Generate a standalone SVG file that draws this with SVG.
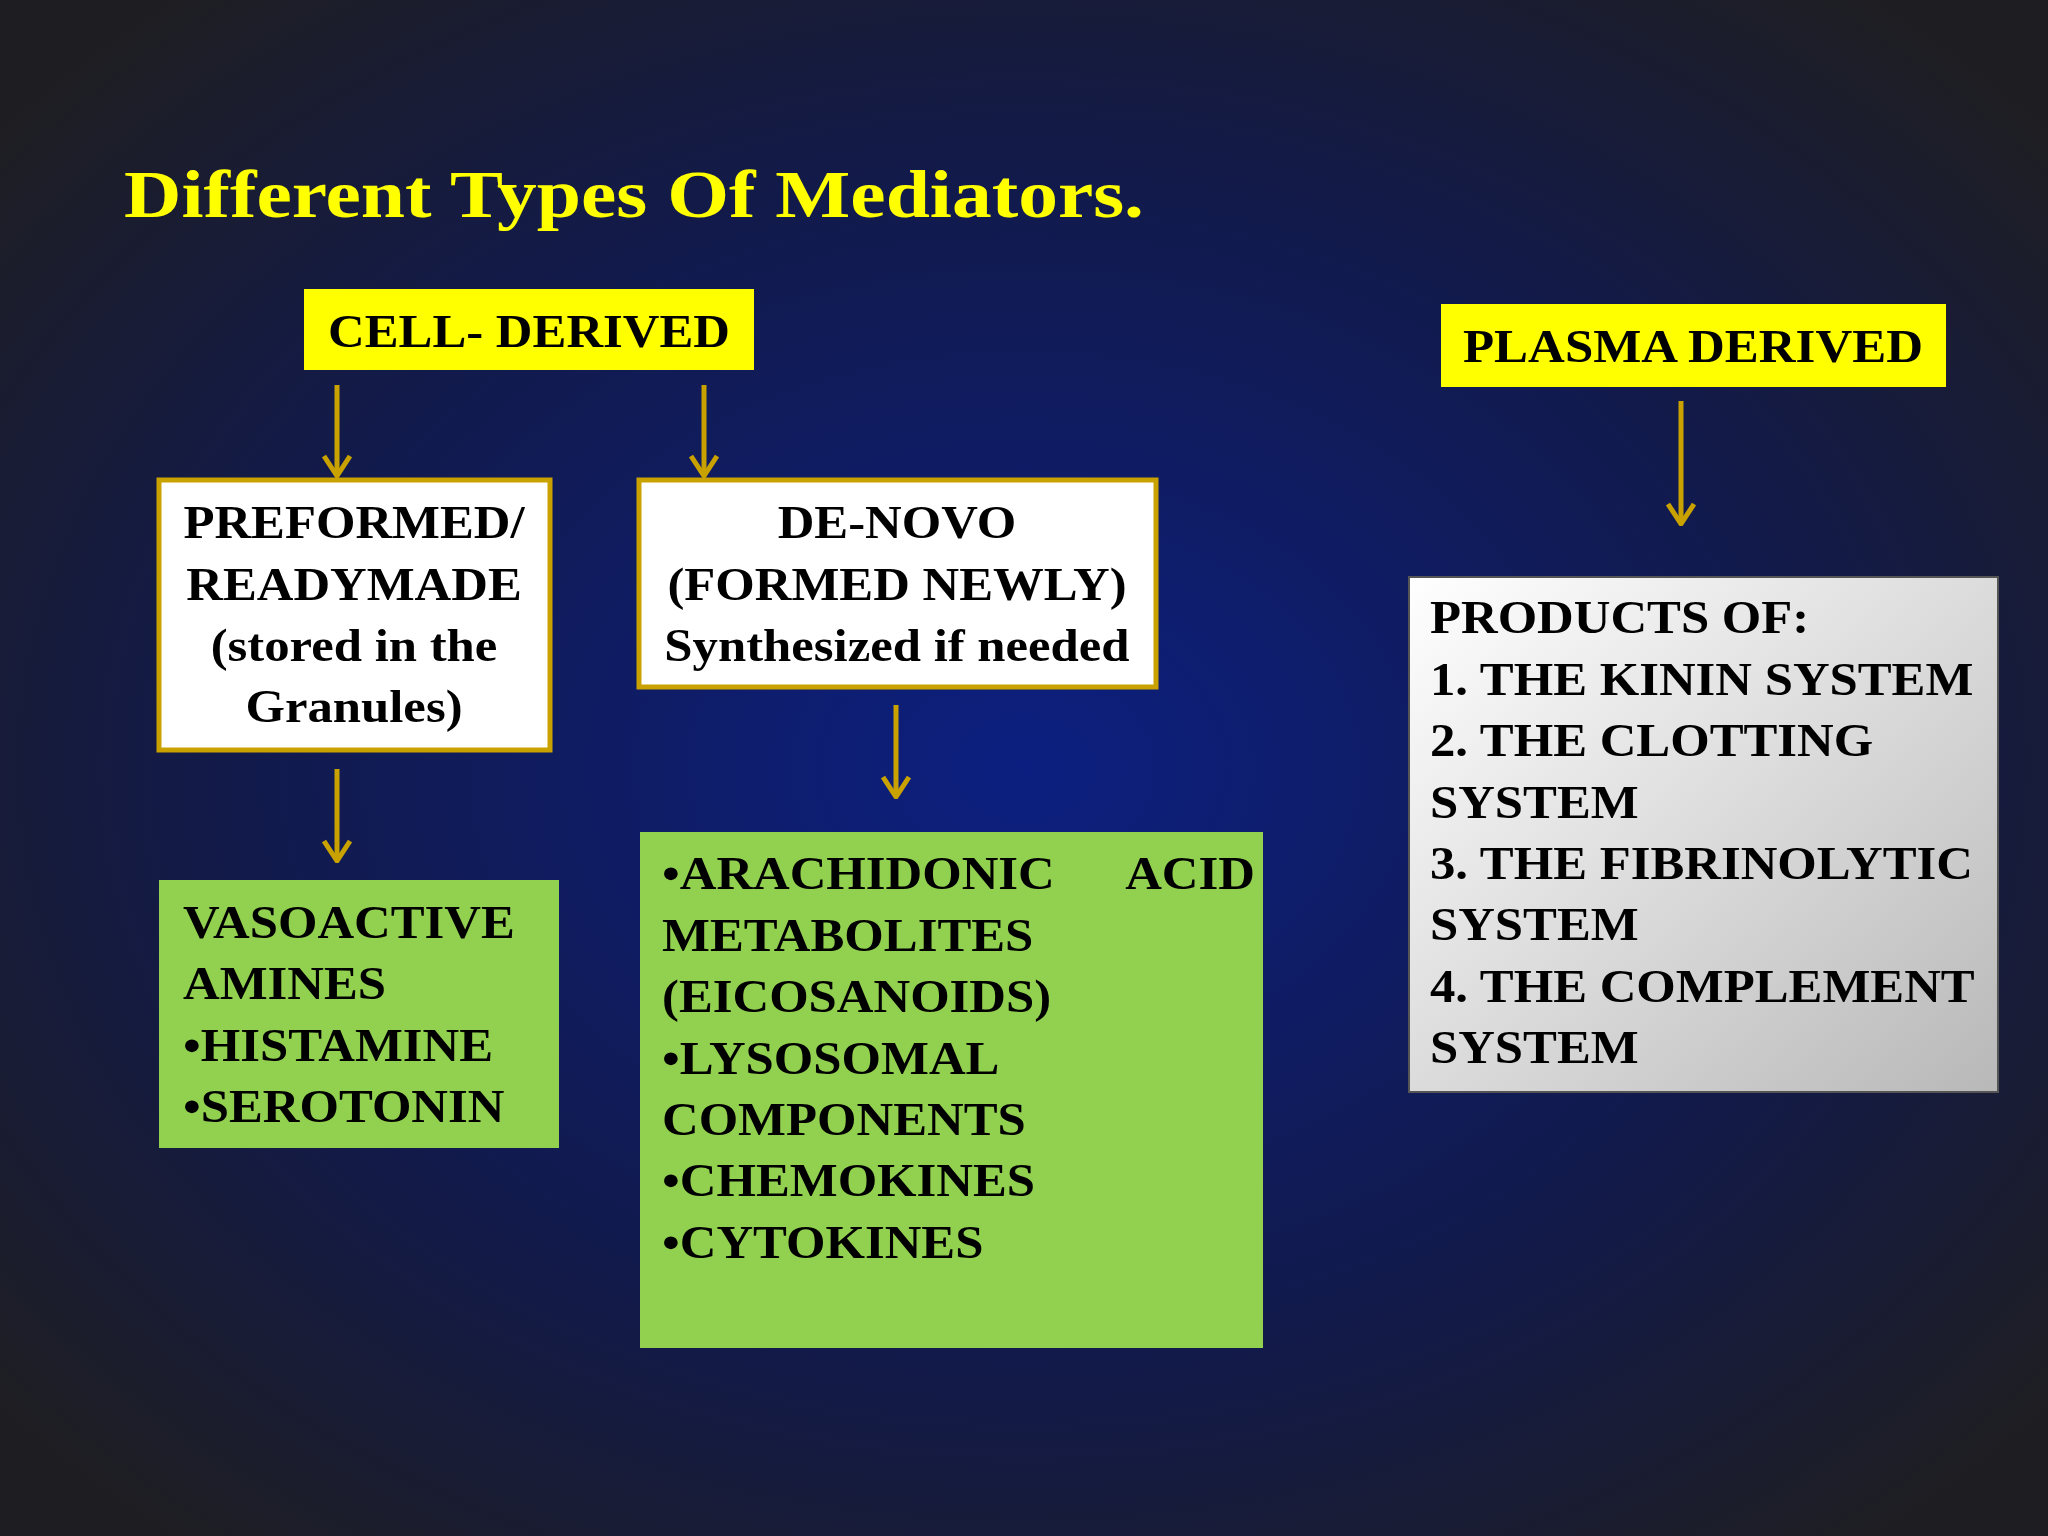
<svg xmlns="http://www.w3.org/2000/svg" width="2048" height="1536" viewBox="0 0 2048 1536">
<defs>
<radialGradient id="bg" cx="0.5" cy="0.5" r="0.65">
<stop offset="0" stop-color="#0c1f80"/>
<stop offset="0.6" stop-color="#121a4a"/>
<stop offset="1" stop-color="#1e1e22"/>
</radialGradient>
<linearGradient id="gr" x1="0" y1="0" x2="1" y2="1">
<stop offset="0" stop-color="#ffffff"/>
<stop offset="1" stop-color="#b8b8b8"/>
</linearGradient>
<marker id="ah" viewBox="0 0 24 30" refX="22" refY="15" markerWidth="24" markerHeight="30" markerUnits="userSpaceOnUse" orient="auto">
<path d="M2,2 L22,15 L2,28" fill="none" stroke="#c9a200" stroke-width="5" stroke-linejoin="round"/>
</marker>
<style>
text{font-family:"Liberation Serif","Times New Roman",serif;font-weight:bold;font-size:47px;fill:#000}
.t{fill:#ffff00;font-size:68px}
.arr{stroke:#c9a200;stroke-width:5;fill:none}
</style>
</defs>
<rect width="2048" height="1536" fill="url(#bg)"/>
<text class="t" x="124" y="217" textLength="1020" lengthAdjust="spacingAndGlyphs">Different Types Of Mediators.</text>
<g id="cell"><rect x="304" y="289" width="450" height="81" fill="#ffff00"/><text x="529" y="347" text-anchor="middle" textLength="402" lengthAdjust="spacingAndGlyphs">CELL- DERIVED</text></g>
<g id="plasma"><rect x="1441" y="304" width="505" height="83" fill="#ffff00"/><text x="1693" y="362" text-anchor="middle" textLength="460" lengthAdjust="spacingAndGlyphs">PLASMA DERIVED</text></g>
<g id="preformed"><rect x="159" y="480" width="391" height="270" fill="#fff" stroke="#c9a200" stroke-width="5"/>
<g transform="translate(354 0) scale(1.08 1) translate(-354 0)">
<text x="354" y="538" text-anchor="middle">PREFORMED/</text><text x="354" y="600" text-anchor="middle">READYMADE</text><text x="354" y="661" text-anchor="middle">(stored in the</text><text x="354" y="722" text-anchor="middle">Granules)</text></g></g>
<g id="denovo"><rect x="639" y="480" width="517" height="207" fill="#fff" stroke="#c9a200" stroke-width="5"/>
<g transform="translate(897 0) scale(1.08 1) translate(-897 0)">
<text x="897" y="538" text-anchor="middle">DE-NOVO</text><text x="897" y="600" text-anchor="middle">(FORMED NEWLY)</text><text x="897" y="661" text-anchor="middle">Synthesized if needed</text></g></g>
<g id="vaso"><rect x="159" y="880" width="400" height="268" fill="#92d050"/>
<g transform="translate(183 0) scale(1.08 1) translate(-183 0)">
<text x="183" y="938">VASOACTIVE</text><text x="183" y="999">AMINES</text><text x="183" y="1061">•HISTAMINE</text><text x="183" y="1122">•SEROTONIN</text></g></g>
<g id="arach"><rect x="640" y="832" width="623" height="516" fill="#92d050"/>
<g transform="translate(662 0) scale(1.08 1) translate(-662 0)">
<text x="662" y="889">•ARACHIDONIC</text><text x="1211" y="889" text-anchor="end">ACID</text>
<text x="662" y="951">METABOLITES</text><text x="662" y="1012">(EICOSANOIDS)</text><text x="662" y="1074">•LYSOSOMAL</text><text x="662" y="1135">COMPONENTS</text><text x="662" y="1196">•CHEMOKINES</text><text x="662" y="1258">•CYTOKINES</text></g></g>
<g id="products"><rect x="1409" y="577" width="589" height="515" fill="url(#gr)" stroke="#555" stroke-width="2"/>
<g transform="translate(1430 0) scale(1.08 1) translate(-1430 0)">
<text x="1430" y="633">PRODUCTS OF:</text><text x="1430" y="695">1. THE KININ SYSTEM</text><text x="1430" y="756">2. THE CLOTTING</text><text x="1430" y="818">SYSTEM</text><text x="1430" y="879">3. THE FIBRINOLYTIC</text><text x="1430" y="940">SYSTEM</text><text x="1430" y="1002">4. THE COMPLEMENT</text><text x="1430" y="1063">SYSTEM</text></g></g>
<g id="connectors">
<line class="arr" x1="337" y1="385" x2="337" y2="476" marker-end="url(#ah)"/>
<line class="arr" x1="704" y1="385" x2="704" y2="476" marker-end="url(#ah)"/>
<line class="arr" x1="1681" y1="401" x2="1681" y2="524" marker-end="url(#ah)"/>
<line class="arr" x1="337" y1="769" x2="337" y2="861" marker-end="url(#ah)"/>
<line class="arr" x1="896" y1="705" x2="896" y2="797" marker-end="url(#ah)"/>
</g>
</svg>
